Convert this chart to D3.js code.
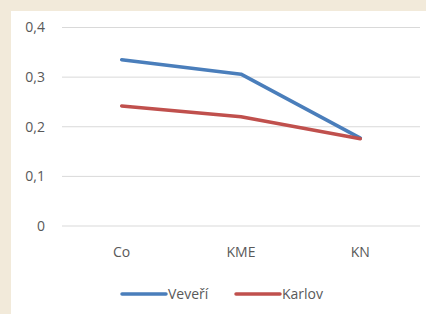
<!DOCTYPE html>
<html>
<head>
<meta charset="utf-8">
<script src="https://cdn.jsdelivr.net/npm/d3@7"></script>
<style>
  html, body { margin: 0; padding: 0; background: #f2eada; }
  svg { display: block; font-family: "Open Sans", "Noto Sans", sans-serif; }
</style>
</head>
<body>
<div id="chart"></div>
<script>
// data
const categories = ['Co', 'KME', 'KN'];
const veveri = [0.335, 0.306, 0.177];
const karlov = [0.242, 0.220, 0.176];
const yTicks = [0, 0.1, 0.2, 0.3, 0.4];
const seriesNames = ['Veveří', 'Karlov'];
const seriesColors = ['#4a7ebb', '#c0504d'];

const width = 426, height = 314;
const fontSize = 14;

const svg = d3.select('#chart').append('svg')
  .attr('width', width)
  .attr('height', height);

// white chart panel on beige page
svg.append('rect')
  .attr('x', 11).attr('y', 11)
  .attr('width', width - 11).attr('height', height - 11)
  .attr('fill', '#ffffff');

const x = d3.scaleBand().domain(categories).range([62, 420]);
const y = d3.scaleLinear().domain([0, 0.4]).range([226, 27.5]);

const fmt = v => d3.format('.1f')(v).replace('.', ',');

// gridlines
svg.append('g')
  .selectAll('line')
  .data(yTicks)
  .join('line')
  .attr('x1', 62).attr('x2', 420)
  .attr('y1', d => y(d)).attr('y2', d => y(d))
  .attr('stroke', '#d9d9d9')
  .attr('stroke-width', 1);

// y tick labels
svg.append('g')
  .selectAll('text')
  .data(yTicks)
  .join('text')
  .attr('x', 45)
  .attr('y', d => y(d))
  .attr('dy', '0.35em')
  .attr('text-anchor', 'end')
  .attr('font-size', fontSize)
  .attr('fill', '#595959')
  .text(d => d === 0 ? '0' : fmt(d));

// category labels
svg.append('g')
  .selectAll('text')
  .data(categories)
  .join('text')
  .attr('x', d => x(d) + x.bandwidth() / 2)
  .attr('y', 252)
  .attr('dy', '0.35em')
  .attr('text-anchor', 'middle')
  .attr('font-size', fontSize)
  .attr('fill', '#595959')
  .text(d => d);

// lines
const line = d3.line()
  .x((d, i) => x(categories[i]) + x.bandwidth() / 2)
  .y(d => y(d));

[veveri, karlov].forEach((vals, i) => {
  svg.append('path')
    .datum(vals)
    .attr('d', line)
    .attr('fill', 'none')
    .attr('stroke', seriesColors[i])
    .attr('stroke-width', 3.5)
    .attr('stroke-linejoin', 'round')
    .attr('stroke-linecap', 'round');
});

// legend
const legendX = [122, 236];
const legend = svg.append('g')
  .selectAll('g')
  .data(seriesNames)
  .join('g')
  .attr('transform', (d, i) => `translate(${legendX[i]},294)`);

legend.append('line')
  .attr('x1', 0).attr('x2', 44)
  .attr('stroke', (d, i) => seriesColors[i])
  .attr('stroke-width', 3.5)
  .attr('stroke-linecap', 'round');

legend.append('text')
  .attr('x', 46)
  .attr('dy', '0.35em')
  .attr('font-size', fontSize)
  .attr('fill', '#595959')
  .text(d => d);
</script>
</body>
</html>
